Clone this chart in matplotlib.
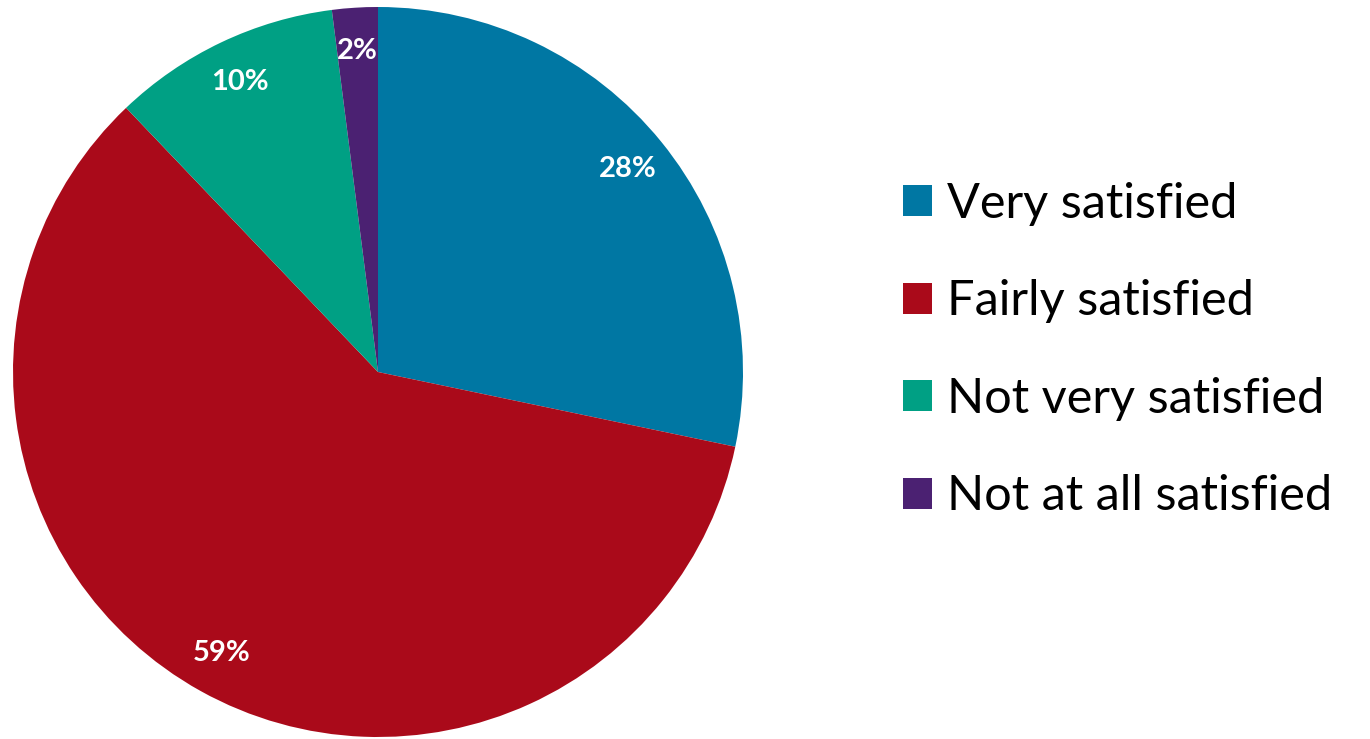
import matplotlib.pyplot as plt

# satisfaction survey pie
labels = ['Very satisfied', 'Fairly satisfied', 'Not very satisfied', 'Not at all satisfied']
values = [28, 59, 10, 2]
colors = ['#0077A3', '#AA0A1A', '#00A084', '#4B2172']

plt.rcParams['font.family'] = ['Lato', 'DejaVu Sans']

fig = plt.figure(figsize=(13.7, 7.39), dpi=100)
ax = fig.add_axes([13/1370, 2/739, 730/1370, 730/739])

wedges, texts, autotexts = ax.pie(values, colors=colors, startangle=90, counterclock=False,
                                  autopct='%d%%', pctdistance=0.88, radius=1.0,
                                  wedgeprops=dict(linewidth=0))
for t in autotexts:
    t.set_color('white')
    t.set_fontsize(21)
    t.set_fontweight('bold')
ax.set_aspect('equal')
ax.set_xlim(-1, 1)
ax.set_ylim(-1, 1)

fig.legend(wedges, labels, loc='center left', bbox_to_anchor=(903/1370, 1 - 350/739),
           frameon=False, fontsize=35, handlelength=0.6, handleheight=0.6,
           handletextpad=0.3, labelspacing=1.1, borderpad=0, borderaxespad=0)

fig.savefig('out.png', dpi=100)
